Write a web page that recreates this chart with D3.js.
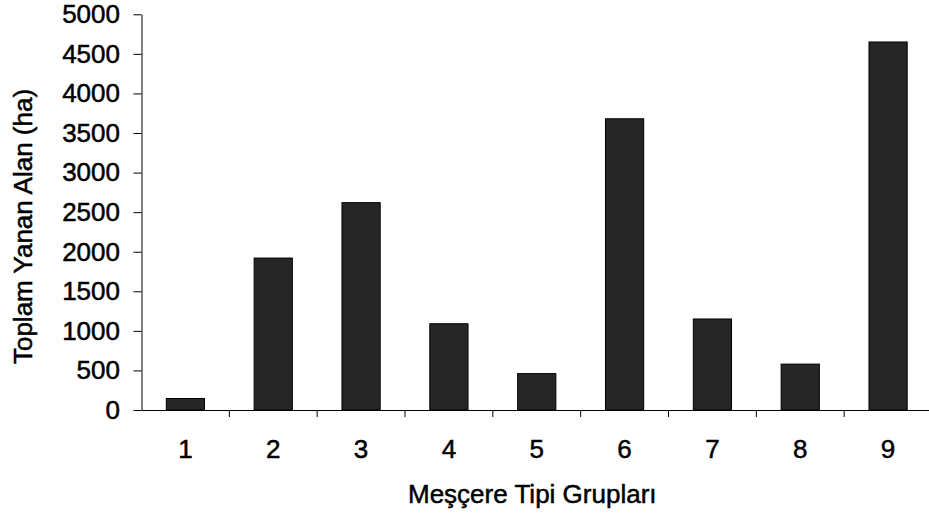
<!DOCTYPE html>
<html>
<head>
<meta charset="utf-8">
<script src="https://cdn.jsdelivr.net/npm/d3@7"></script>
<style>
  html, body { margin: 0; padding: 0; background: #fff; }
  svg { display: block; }
  text { font-family: "Liberation Sans", Arial, sans-serif; fill: #000; stroke: #000; stroke-width: 0.5px; }
</style>
</head>
<body>
<svg id="chart" width="929" height="517"></svg>
<script>
const categories = ["1", "2", "3", "4", "5", "6", "7", "8", "9"];
const values = [145, 1920, 2620, 1090, 460, 3680, 1150, 580, 4650];
const yTicks = [0, 500, 1000, 1500, 2000, 2500, 3000, 3500, 4000, 4500, 5000];
const xTitle = "Meşçere Tipi Grupları";
const yTitle = "Toplam Yanan Alan (ha)";

const svg = d3.select("#chart");
const mLeft = 141.5, mRight = 932, mTop = 14.3, mBottom = 410;

const x = d3.scaleBand().domain(categories).range([mLeft, mRight]).paddingInner(0.565).paddingOuter(0.2825);
const xb = d3.scaleBand().domain(categories).range([mLeft, mRight]);
const y = d3.scaleLinear().domain([0, 5000]).range([mBottom, mTop]);

// bars
svg.append("g").selectAll("rect").data(values).join("rect")
  .attr("x", (d, i) => x(categories[i]))
  .attr("y", d => y(d))
  .attr("width", x.bandwidth())
  .attr("height", d => y(0) - y(d))
  .attr("fill", "#262626")
  .attr("stroke", "#000")
  .attr("stroke-width", 1);

// y axis
const yAxis = svg.append("g").attr("transform", `translate(${mLeft},0)`)
  .call(d3.axisLeft(y).tickValues(yTicks).tickFormat(d3.format("d")).tickSize(8).tickPadding(13.5).tickSizeOuter(0));
yAxis.selectAll("text").style("font-size", "26px");
yAxis.select(".domain").attr("stroke", "#000");

// x axis (labels at band centers)
const xAxis = svg.append("g").attr("transform", `translate(0,${mBottom})`)
  .call(d3.axisBottom(xb).tickSize(0).tickPadding(30).tickSizeOuter(0));
xAxis.selectAll("text").style("font-size", "26px");
xAxis.select(".domain").attr("stroke", "#000");

// x boundary ticks
svg.append("g").selectAll("line").data(categories.slice(1)).join("line")
  .attr("x1", d => xb(d)).attr("x2", d => xb(d))
  .attr("y1", mBottom).attr("y2", mBottom + 7)
  .attr("stroke", "#000").attr("stroke-width", 1);

// titles
svg.append("text")
  .attr("x", (mLeft + 929) / 2 - 3).attr("y", 503)
  .attr("text-anchor", "middle")
  .style("font-size", "26px")
  .text(xTitle);

svg.append("text")
  .attr("transform", `translate(32,${226.5}) rotate(-90)`)
  .attr("text-anchor", "middle")
  .style("font-size", "26px")
  .text(yTitle);
</script>
</body>
</html>
